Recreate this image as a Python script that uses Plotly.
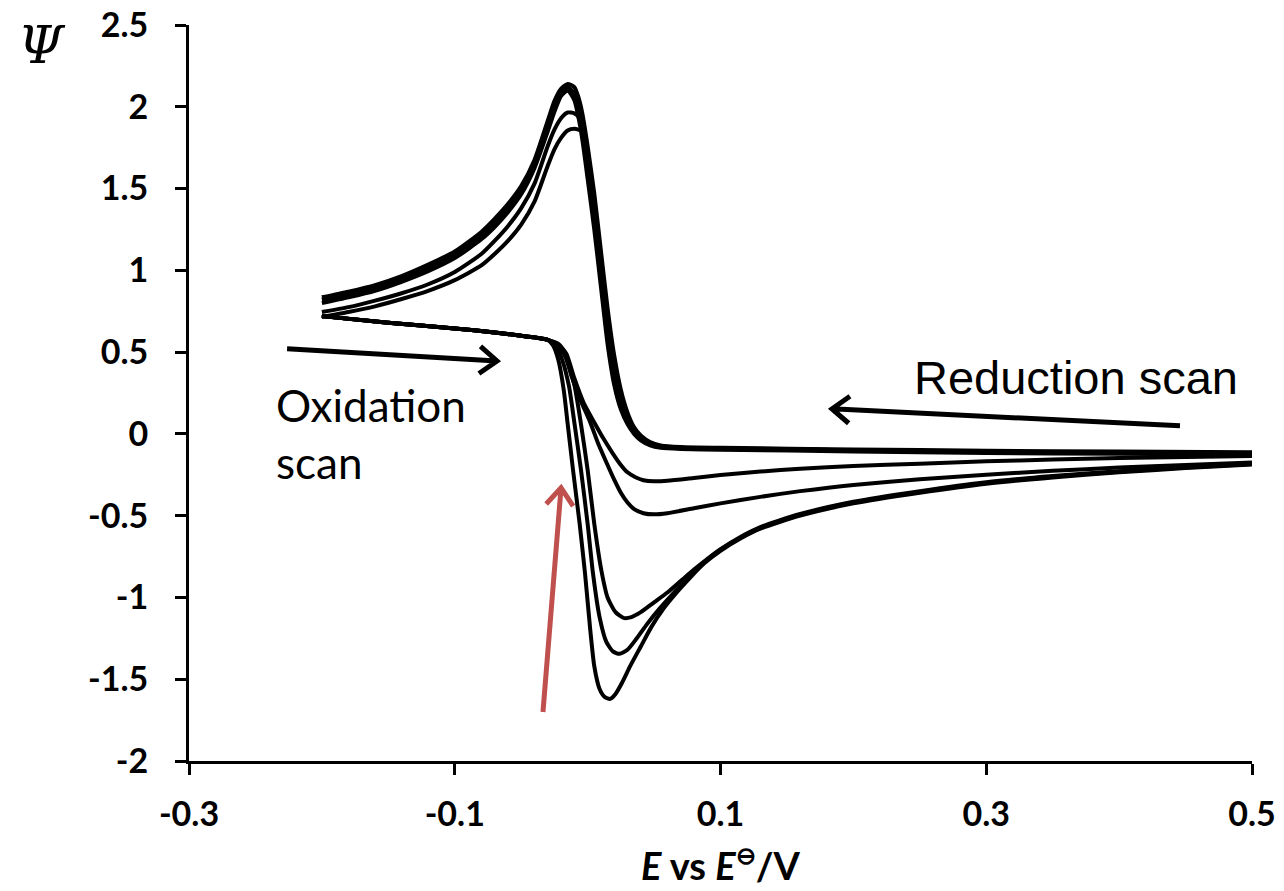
import math
import plotly.graph_objects as go

# ---------------- data ----------------
# Reduction (upper) branches: scanned from E = 0.5 down to -0.2
red_x = [0.5, 0.4, 0.3, 0.2, 0.1, 0.07, 0.055, 0.047, 0.04, 0.035, 0.03, 0.025, 0.02,
         0.015, 0.01, 0.005, 0.0, -0.004, -0.007, -0.01, -0.015, -0.02, -0.025, -0.03,
         -0.04, -0.05, -0.06, -0.07, -0.08, -0.1, -0.12, -0.14, -0.16, -0.18, -0.2]
red_1 = [-0.113, -0.108, -0.103, -0.095, -0.085, -0.08, -0.07, -0.05, -0.01, 0.04, 0.13, 0.27, 0.48,
         0.77, 1.12, 1.47, 1.76, 1.96, 2.06, 2.12, 2.14, 2.11, 2.035, 1.915,
         1.675, 1.515, 1.405, 1.315, 1.235, 1.115, 1.035, 0.965, 0.91, 0.87, 0.835]
red_2 = [-0.12, -0.115, -0.11, -0.1, -0.09, -0.085, -0.077, -0.06, -0.025, 0.02, 0.09, 0.2, 0.38,
         0.65, 1.0, 1.36, 1.66, 1.88, 2.0, 2.08, 2.12, 2.085, 2.0, 1.88,
         1.65, 1.49, 1.38, 1.29, 1.215, 1.095, 1.015, 0.95, 0.895, 0.855, 0.82]
red_3 = [-0.127, -0.122, -0.117, -0.107, -0.097, -0.092, -0.085, -0.07, -0.04, 0.0, 0.06, 0.15, 0.3,
         0.55, 0.9, 1.25, 1.56, 1.8, 1.94, 2.04, 2.1, 2.065, 1.97, 1.85,
         1.625, 1.465, 1.355, 1.265, 1.19, 1.075, 0.995, 0.93, 0.875, 0.835, 0.8]
red_4 = [-0.12, -0.115, -0.11, -0.1, -0.09, -0.085, -0.077, -0.06, -0.025, 0.02, 0.09, 0.2, 0.38,
         0.65, 1.0, 1.36, 1.66, 1.87, 1.94, 1.96, 1.965, 1.93, 1.86, 1.76,
         1.53, 1.38, 1.27, 1.18, 1.1, 0.99, 0.915, 0.86, 0.815, 0.775, 0.745]
red_5 = [-0.12, -0.115, -0.11, -0.1, -0.09, -0.085, -0.077, -0.06, -0.025, 0.02, 0.09, 0.2, 0.38,
         0.65, 1.0, 1.36, 1.66, 1.85, 1.86, 1.865, 1.855, 1.81, 1.74, 1.64,
         1.42, 1.28, 1.18, 1.1, 1.03, 0.94, 0.875, 0.825, 0.78, 0.745, 0.715]

# Oxidation (lower) branches: scanned from E = -0.2 back to 0.5
oxA_x = [-0.2, -0.15, -0.1, -0.07, -0.05, -0.04, -0.03, -0.022, -0.016, -0.01, -0.003, 0.005,
         0.012, 0.019, 0.025, 0.03, 0.036, 0.042, 0.05, 0.06, 0.08, 0.1, 0.13, 0.16, 0.2,
         0.25, 0.3, 0.35, 0.4, 0.45, 0.5]
oxA_y = [0.72, 0.68, 0.645, 0.62, 0.60, 0.59, 0.575, 0.55, 0.49, 0.34, 0.19, 0.07,
         -0.03, -0.12, -0.19, -0.235, -0.265, -0.283, -0.29, -0.287, -0.27, -0.252, -0.23, -0.213, -0.197,
         -0.182, -0.168, -0.157, -0.148, -0.141, -0.135]
oxB_x = [-0.2, -0.15, -0.1, -0.07, -0.05, -0.04, -0.03, -0.023, -0.017, -0.012, -0.005, 0.002,
         0.008, 0.015, 0.02, 0.025, 0.03, 0.035, 0.042, 0.05, 0.06, 0.08, 0.1, 0.13, 0.16,
         0.2, 0.25, 0.3, 0.35, 0.4, 0.45, 0.5]
oxB_y = [0.72, 0.68, 0.645, 0.62, 0.60, 0.59, 0.575, 0.55, 0.48, 0.35, 0.2, 0.07,
         -0.06, -0.19, -0.28, -0.36, -0.42, -0.46, -0.485, -0.492, -0.485, -0.455, -0.425, -0.385, -0.35,
         -0.312, -0.278, -0.25, -0.226, -0.206, -0.19, -0.175]
oxC_x = [-0.2, -0.15, -0.1, -0.07, -0.05, -0.04, -0.03, -0.022, -0.016, -0.01, -0.005, 0.0,
         0.005, 0.01, 0.015, 0.021, 0.027, 0.033, 0.04, 0.05, 0.06, 0.07, 0.08, 0.09, 0.1,
         0.115, 0.13, 0.16, 0.2, 0.25, 0.3, 0.35, 0.4, 0.45, 0.5]
oxC_y = [0.72, 0.68, 0.645, 0.62, 0.60, 0.59, 0.575, 0.54, 0.46, 0.3, 0.06, -0.22,
         -0.55, -0.82, -1.0, -1.09, -1.125, -1.12, -1.09, -1.03, -0.97, -0.9, -0.83, -0.765, -0.705,
         -0.63, -0.57, -0.49, -0.415, -0.35, -0.295, -0.258, -0.228, -0.203, -0.182]
oxD_x = [-0.2, -0.15, -0.1, -0.07, -0.05, -0.04, -0.03, -0.024, -0.019, -0.014, -0.01, -0.005,
         0.0, 0.004, 0.009, 0.014, 0.019, 0.024, 0.03, 0.037, 0.045, 0.054, 0.065, 0.075,
         0.087, 0.1, 0.115, 0.13, 0.16, 0.2, 0.25, 0.3, 0.35, 0.4, 0.45, 0.5]
oxD_y = [0.72, 0.68, 0.645, 0.62, 0.60, 0.59, 0.575, 0.54, 0.45, 0.29, 0.07, -0.22,
         -0.55, -0.85, -1.12, -1.27, -1.33, -1.345, -1.32, -1.25, -1.16, -1.07, -0.97, -0.89,
         -0.79, -0.71, -0.635, -0.575, -0.495, -0.42, -0.355, -0.3, -0.262, -0.231, -0.206, -0.184]
oxE_x = [-0.2, -0.15, -0.1, -0.07, -0.05, -0.04, -0.03, -0.026, -0.022, -0.018, -0.015, -0.011,
         -0.006, -0.002, 0.002, 0.005, 0.009, 0.013, 0.017, 0.021, 0.026, 0.032, 0.04, 0.048,
         0.057, 0.067, 0.077, 0.088, 0.1, 0.115, 0.13, 0.16, 0.2, 0.25, 0.3, 0.35, 0.4, 0.45, 0.5]
oxE_y = [0.72, 0.68, 0.645, 0.62, 0.60, 0.59, 0.575, 0.54, 0.45, 0.27, 0.06, -0.22,
         -0.55, -0.85, -1.2, -1.42, -1.56, -1.61, -1.62, -1.59, -1.52, -1.42, -1.3, -1.18,
         -1.07, -0.97, -0.88, -0.79, -0.715, -0.64, -0.58, -0.5, -0.425, -0.36, -0.305, -0.266, -0.235, -0.209, -0.187]

x_ticks = [-0.3, -0.1, 0.1, 0.3, 0.5]
x_tick_labels = ["-0.3", "-0.1", "0.1", "0.3", "0.5"]
y_ticks = [2.5, 2, 1.5, 1, 0.5, 0, -0.5, -1, -1.5, -2]
y_tick_labels = ["2.5", "2", "1.5", "1", "0.5", "0", "-0.5", "-1", "-1.5", "-2"]

# ---------------- figure ----------------
W, H = 1284, 891
ML, MR, MT, MB = 189, 32, 25, 130
XR = [-0.3, 0.5]
YR = [-2, 2.5]
SX = (W - ML - MR) / (XR[1] - XR[0])   # px per x unit
SY = (H - MT - MB) / (YR[1] - YR[0])   # px per y unit

fig = go.Figure()
LW = 4
for ys in [red_1, red_2, red_3, red_4, red_5]:
    fig.add_trace(go.Scatter(x=red_x, y=ys, mode="lines",
                             line=dict(color="black", width=LW, shape="spline", smoothing=0.6),
                             hoverinfo="skip", showlegend=False))
for xs, ys in [(oxA_x, oxA_y), (oxB_x, oxB_y), (oxC_x, oxC_y), (oxD_x, oxD_y), (oxE_x, oxE_y)]:
    fig.add_trace(go.Scatter(x=xs, y=ys, mode="lines",
                             line=dict(color="black", width=LW, shape="spline", smoothing=0.6),
                             hoverinfo="skip", showlegend=False))


def arrow_path(x0, y0, x1, y1, head_px=22, ang=38):
    # chevron head computed in pixel space, then converted back to data units
    dx = (x1 - x0) * SX
    dy = (y1 - y0) * SY
    L = math.hypot(dx, dy)
    ux, uy = dx / L, dy / L
    pts = []
    for s in (1, -1):
        a = math.radians(ang * s)
        rx = -(ux * math.cos(a) - uy * math.sin(a)) * head_px
        ry = -(ux * math.sin(a) + uy * math.cos(a)) * head_px
        pts.append((x1 + rx / SX, y1 + ry / SY))
    return (f"M {x0},{y0} L {x1},{y1} "
            f"M {pts[0][0]},{pts[0][1]} L {x1},{y1} L {pts[1][0]},{pts[1][1]}")


arrows = [
    (-0.2262, 0.52, -0.0682, 0.446, "black"),      # oxidation scan arrow
    (0.4458, 0.049, 0.1839, 0.153, "black"),       # reduction scan arrow
    (-0.0336, -1.70, -0.0200, -0.33, "#C0504D"),   # red arrow
]
shapes = []
for x0, y0, x1, y1, col in arrows:
    shapes.append(dict(type="path", xref="x", yref="y", path=arrow_path(x0, y0, x1, y1),
                       line=dict(color=col, width=5)))

tick_font = dict(family="Lato, Open Sans, sans-serif", size=34, color="black")

fig.update_layout(
    width=W, height=H, autosize=False,
    margin=dict(l=ML, r=MR, t=MT, b=MB, autoexpand=False),
    paper_bgcolor="white", plot_bgcolor="white",
    shapes=shapes,
    xaxis=dict(range=XR, tickvals=x_ticks, ticktext=[f"<b>{t}</b>" for t in x_tick_labels],
               automargin=False,
               showgrid=False, zeroline=False, showline=True, linecolor="black", linewidth=3,
               ticks="outside", ticklen=11, tickwidth=3, tickcolor="black",
               tickfont=tick_font, ticklabelstandoff=10,
               title=dict(text="<b><i>E</i> vs <i>E</i><sup><span style='font-size:24px'>⊖</span></sup>/V</b>",
                          font=dict(family="Lato, Open Sans, sans-serif", size=38, color="black"),
                          standoff=22)),
    yaxis=dict(range=YR, tickvals=y_ticks, ticktext=[f"<b>{t}</b>" for t in y_tick_labels],
               automargin=False,
               showgrid=False, zeroline=False, showline=True, linecolor="black", linewidth=3,
               ticks="outside", ticklen=11, tickwidth=3, tickcolor="black",
               tickfont=tick_font, ticklabelstandoff=20),
    annotations=[
        dict(text="<i>Ψ</i>", xref="paper", yref="paper", x=(42 - ML) / (W - ML - MR),
             y=(H - MB - 45) / (H - MT - MB), xanchor="center", yanchor="middle", showarrow=False,
             font=dict(family="DejaVu Serif, Liberation Serif, serif", size=52, color="black")),
        dict(text="Reduction scan", xref="paper", yref="paper",
             x=(1076 - ML) / (W - ML - MR), y=(H - MB - 377) / (H - MT - MB),
             xanchor="center", yanchor="middle", showarrow=False,
             font=dict(family="Liberation Sans, Arial, sans-serif", size=47, color="black")),
        dict(text="Oxidation<br>scan", xref="paper", yref="paper", align="left",
             x=(274 - ML) / (W - ML - MR), y=(H - MB - 434) / (H - MT - MB),
             xanchor="left", yanchor="middle", showarrow=False,
             font=dict(family="Lato, Open Sans, sans-serif", size=44, color="black")),
    ],
)

fig.write_html("out.html")
